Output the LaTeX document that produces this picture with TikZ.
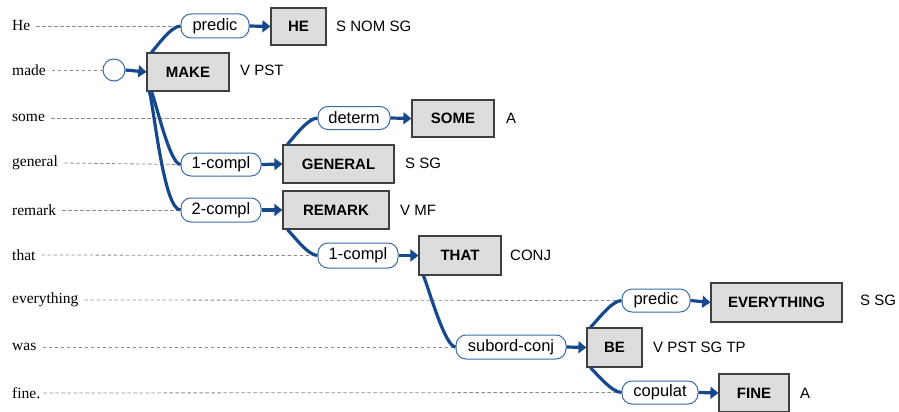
\documentclass[tikz,border=0pt]{standalone}
\usepackage{fontspec}
\setmainfont{Liberation Serif}
\setsansfont{Liberation Sans}
\usetikzlibrary{arrows.meta}
\definecolor{cblue}{RGB}{22,72,140}
\definecolor{lblue}{RGB}{60,105,165}
\definecolor{boxgray}{RGB}{221,221,221}
\definecolor{dgray}{RGB}{140,140,140}
\tikzset{
  word/.style={anchor=west, inner sep=0pt, font=\fontsize{15.5}{15.5}\selectfont},
  lab/.style={draw=lblue, line width=1pt, fill=white, rounded corners=10pt, inner sep=0pt,
              font=\sffamily\fontsize{16.5}{16.5}\selectfont},
  wbox/.style={draw=black!75, line width=1.2pt, fill=boxgray, inner sep=0pt,
               font=\sffamily\bfseries\fontsize{15}{15}\selectfont},
  feat/.style={anchor=west, inner sep=0pt, font=\sffamily\fontsize{15}{15}\selectfont},
  conn/.style={draw=cblue, line width=3.2pt},
  arr/.style={draw=cblue, line width=3.2pt, -{Triangle[length=8pt,width=12pt]}},
  dline/.style={draw=dgray, line width=0.8pt, dash pattern=on 3.5pt off 2.5pt},
}
\begin{document}
\begin{tikzpicture}[x=1pt,y=-1pt]
\useasboundingbox (0,0) rectangle (899,412);
% words
\node[word] (w1) at (12,26) {He};
\node[word] (w2) at (12,70) {made};
\node[word] (w3) at (12,118) {some};
\node[word] (w4) at (12,163) {general};
\node[word] (w5) at (12,210) {remark};
\node[word] (w6) at (12,255) {that};
\node[word] (w7) at (12,300) {everything};
\node[word] (w8) at (12,347) {was};
\node[word] (w9) at (12,393) {fine.};
% labels
\node[lab, minimum width=68pt, minimum height=24pt] (l1) at (215,26) {predic};
\node[circle, draw=lblue, line width=1pt, fill=white, minimum size=22pt, inner sep=0pt] (root) at (114,70) {};
\node[lab, minimum width=72pt, minimum height=23pt] (l3) at (354,118) {determ};
\node[lab, minimum width=80pt, minimum height=23pt] (l4) at (221,164.5) {1-compl};
\node[lab, minimum width=80pt, minimum height=24pt] (l5) at (221,210) {2-compl};
\node[lab, minimum width=80pt, minimum height=25pt] (l6) at (358,255.5) {1-compl};
\node[lab, minimum width=68pt, minimum height=23pt] (l7) at (656,300.5) {predic};
\node[lab, minimum width=110pt, minimum height=24pt] (l8) at (511,347) {subord-conj};
\node[lab, minimum width=76pt, minimum height=23pt] (l9) at (660,392.5) {copulat};
% dashed guide lines
\draw[dline] ([xshift=6pt]w1.east) -- (l1.west);
\draw[dline] ([xshift=6pt]w2.east) -- (root.west);
\draw[dline] ([xshift=6pt]w3.east) -- (l3.west);
\draw[dline] ([xshift=6pt]w4.east) -- (l4.west);
\draw[dline] ([xshift=6pt]w5.east) -- (l5.west);
\draw[dline] ([xshift=6pt]w6.east) -- (l6.west);
\draw[dline] ([xshift=6pt]w7.east) -- (l7.west);
\draw[dline] ([xshift=6pt]w8.east) -- (l8.west);
\draw[dline] ([xshift=3pt]w9.east) -- (l9.west);
% boxes
\node[wbox, minimum width=55pt, minimum height=37pt] (HE) at (298.5,26.5) {HE};
\node[wbox, minimum width=82pt, minimum height=38pt] (MAKE) at (188,72) {MAKE};
\node[wbox, minimum width=82pt, minimum height=37pt] (SOME) at (453,118.5) {SOME};
\node[wbox, minimum width=111pt, minimum height=38pt] (GENERAL) at (338.5,164) {GENERAL};
\node[wbox, minimum width=106pt, minimum height=38pt] (REMARK) at (336,210) {REMARK};
\node[wbox, minimum width=82pt, minimum height=39pt] (THAT) at (460,255.5) {THAT};
\node[wbox, minimum width=131pt, minimum height=39pt] (EVERY) at (776.5,302.5) {EVERYTHING};
\node[wbox, minimum width=55pt, minimum height=39pt] (BE) at (614.5,347.5) {BE};
\node[wbox, minimum width=70pt, minimum height=38pt] (FINE) at (754,393) {FINE};
% features
\node[feat] (f1) at (336,26) {S NOM SG};
\node[feat] (f2) at (240,70) {V PST};
\node[feat] (f3) at (506,118) {A};
\node[feat] (f4) at (405,163) {S SG};
\node[feat] (f5) at (400,210) {V MF};
\node[feat] (f6) at (510,255) {CONJ};
\node[feat] (f7) at (860,300) {S SG};
\node[feat] (f8) at (653,347) {V PST SG TP};
\node[feat] (f9) at (800,393) {A};
% connectors from heads to labels
\draw[conn] ([xshift=5pt]MAKE.north west) to[out=48,in=180,looseness=0.6] (l1.west);
\draw[conn] ([xshift=5pt]MAKE.south west) to[out=-66,in=180,looseness=0.35] (l4.west);
\draw[conn] ([xshift=3pt]MAKE.south west) to[out=-74,in=180,looseness=0.35] (l5.west);
\draw[conn] ([xshift=5pt]GENERAL.north west) to[out=48,in=180,looseness=0.6] (l3.west);
\draw[conn] ([xshift=5pt]REMARK.south west) to[out=-45,in=180,looseness=0.6] (l6.west);
\draw[conn] ([xshift=5pt]THAT.south west) to[out=-66,in=180,looseness=0.35] (l8.west);
\draw[conn] ([xshift=4pt]BE.north west) to[out=45,in=180,looseness=0.6] (l7.west);
\draw[conn] ([xshift=4pt]BE.south west) to[out=-45,in=180,looseness=0.6] (l9.west);
% arrows from labels to dependents
\draw[arr] (l1.east) -- (HE.west);
\draw[arr] (root.east) -- (MAKE.west);
\draw[arr] (l3.east) -- (SOME.west);
\draw[arr] (l4.east) -- (GENERAL.west);
\draw[arr] (l5.east) -- (REMARK.west);
\draw[arr] (l6.east) -- (THAT.west);
\draw[arr] (l7.east) -- (EVERY.west);
\draw[arr] (l8.east) -- (BE.west);
\draw[arr] (l9.east) -- (FINE.west);
\end{tikzpicture}
\end{document}
